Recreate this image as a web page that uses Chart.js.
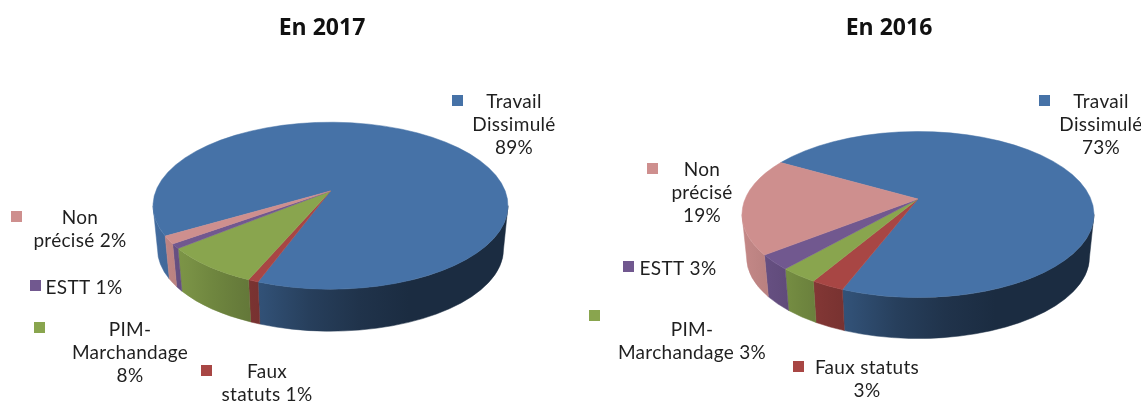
<!DOCTYPE html>
<html lang="fr">
<head>
  <meta charset="UTF-8" />
  <title>Répartition 2017 / 2016</title>
  <script src="https://cdn.jsdelivr.net/npm/chart.js"></script>
  <style>
    html, body { margin: 0; background: #fff; overflow: hidden; }
    #page { position: relative; width: 1141px; height: 403px; overflow: hidden; }
    canvas { position: absolute; top: 0; filter: blur(0.35px); }
    #c2017 { left: 0; }
    #c2016 { left: 580px; }
  </style>
</head>
<body>
  <div id="page">
    <canvas id="c2017" width="644" height="403"></canvas>
    <canvas id="c2016" width="618" height="403"></canvas>
  </div>

  <script>
    const categories = ["Travail Dissimulé", "Faux statuts", "PIM-Marchandage", "ESTT", "Non précisé"];
    const values2017 = [89.1, 0.8, 7.7, 0.9, 1.5];
    const values2016 = [72.6, 2.6, 3.0, 2.9, 18.9];
    const colors = ["#4672A7", "#A84644", "#89A54E", "#71588F", "#CE8F8E"];
    // wrapped as in the picture, {p} is the percentage
    const lines2017 = [["Travail", "Dissimulé", "{p}"], ["Faux", "statuts {p}"], ["PIM-", "Marchandage", "{p}"], ["ESTT {p}"], ["Non", "précisé {p}"]];
    const lines2016 = [["Travail", "Dissimulé", "{p}"], ["Faux statuts", "{p}"], ["PIM-", "Marchandage {p}"], ["ESTT {p}"], ["Non", "précisé", "{p}"]];

    // page coordinates of legend entries: marker left, marker top, text centre, first line centre
    const place2017 = [[452, 95, 514, 102], [201, 365, 267, 372], [34, 322, 130, 330], [30, 280, 84, 288], [11, 211, 80, 218]];
    const place2016 = [[1039, 95, 1101, 102], [793, 361, 867, 368], [589, 310, 692, 330], [623, 261, 678, 269], [647, 163, 702, 170]];

    const LABEL_FONT = '19px Lato, sans-serif';
    const LINE_H = 23;

    function shade(hex, k) {
      const n = parseInt(hex.slice(1), 16);
      return `rgb(${Math.round((n >> 16) * k)},${Math.round(((n >> 8) & 255) * k)},${Math.round((n & 255) * k)})`;
    }

    // left side of the wall stays light, right side goes dark
    const wallStops = [[0, .95], [.1, .88], [.17, .81], [.24, .75], [.31, .7], [.44, .55], [.58, .45], [.72, .39], [1, .39]];

    const pie3d = {
      id: "pie3d",
      beforeDatasetDraw(chart, args, o) {
        const ctx = chart.ctx;
        const cx = o.cx - o.left;
        const b = (o.apexY - o.cy) / o.ry;
        const s = Math.sqrt(1 - b * b);
        const TWO_PI = Math.PI * 2;
        // perspective: the slice angle goes to a point of the ellipse, centre goes to the apex
        const toEllipse = a => {
          const u = Math.cos(a), v = Math.sin(a), w = 1 + b * v;
          return Math.atan2((v + b) / w, s * u / w);
        };
        const rx2 = o.rx - 4.5, ry2 = o.ry - 1.5;
        const cy2 = o.cy + o.depth + 1.5;
        const arcs = chart.getDatasetMeta(0).data.map((arc, i) => {
          const t0 = toEllipse(arc.startAngle);
          let t1 = toEllipse(arc.endAngle);
          while (t1 <= t0) t1 += TWO_PI;
          return { t0, t1, color: colors[i] };
        });

        // side wall, only the front half of the rim
        arcs.forEach(({ t0, t1, color }) => {
          const g = ctx.createLinearGradient(cx - o.rx, 0, cx + o.rx, 0);
          wallStops.forEach(st => g.addColorStop(st[0], shade(color, st[1])));
          [-TWO_PI, 0, TWO_PI].forEach(shift => {
            const a0 = Math.max(t0 + shift, 0), a1 = Math.min(t1 + shift, Math.PI);
            if (a1 <= a0) return;
            ctx.beginPath();
            ctx.ellipse(cx, o.cy, o.rx, o.ry, 0, a0, a1);
            ctx.ellipse(cx, cy2, rx2, ry2, 0, a1, a0, true);
            ctx.closePath();
            ctx.fillStyle = g;
            ctx.strokeStyle = g;
            ctx.lineWidth = 0.5;
            ctx.fill();
            ctx.stroke();
          });
        });

        // top face
        arcs.forEach(({ t0, t1, color }) => {
          ctx.beginPath();
          ctx.moveTo(cx, o.apexY);
          ctx.ellipse(cx, o.cy, o.rx, o.ry, 0, t0, t1);
          ctx.closePath();
          ctx.fillStyle = color;
          ctx.strokeStyle = color;
          ctx.lineWidth = 0.5;
          ctx.fill();
          ctx.stroke();
        });
        return false;
      },
      afterDraw(chart, args, o) {
        const ctx = chart.ctx;
        const total = chart.data.datasets[0].data.reduce((a, v) => a + v, 0);
        ctx.save();
        ctx.font = LABEL_FONT;
        ctx.letterSpacing = o.spacing;
        ctx.textAlign = "center";
        ctx.textBaseline = "middle";
        o.place.forEach((p, i) => {
          ctx.fillStyle = colors[i];
          ctx.fillRect(p[0] - o.left, p[1], 11, 11);
          const pct = Math.round(chart.data.datasets[0].data[i] / total * 100) + "%";
          ctx.fillStyle = "#1f1f1f";
          o.lines[i].forEach((line, k) => {
            ctx.fillText(line.replace("{p}", pct), p[2] - o.left, p[3] + k * LINE_H);
          });
        });
        ctx.restore();
      }
    };

    function makePie(id, title, values, rotation, lines, place, geo) {
      new Chart(document.getElementById(id), {
        type: "pie",
        data: {
          labels: categories,
          datasets: [{ data: values, backgroundColor: colors, borderWidth: 0 }]
        },
        options: {
          responsive: false,
          animation: false,
          rotation: rotation,
          plugins: {
            legend: { display: false },
            tooltip: { enabled: false },
            title: {
              display: true,
              text: title,
              color: "#111",
              font: { family: "'Open Sans', sans-serif", size: 23, weight: "bold" },
              padding: { top: 15, bottom: 0 }
            },
            pie3d: Object.assign({ lines, place, spacing: "0.3px" }, geo)
          }
        },
        plugins: [pie3d]
      });
    }

    makePie("c2017", "En 2017", values2017, 239.5, lines2017, place2017,
      { left: 0, cx: 330.5, cy: 205.7, rx: 177.5, ry: 83.5, apexY: 191, depth: 42 });
    makePie("c2016", "En 2016", values2016, 299.8, lines2016, place2016,
      { left: 580, cx: 918, cy: 214.5, rx: 176, ry: 83, apexY: 199, depth: 41 });
  </script>
</body>
</html>
